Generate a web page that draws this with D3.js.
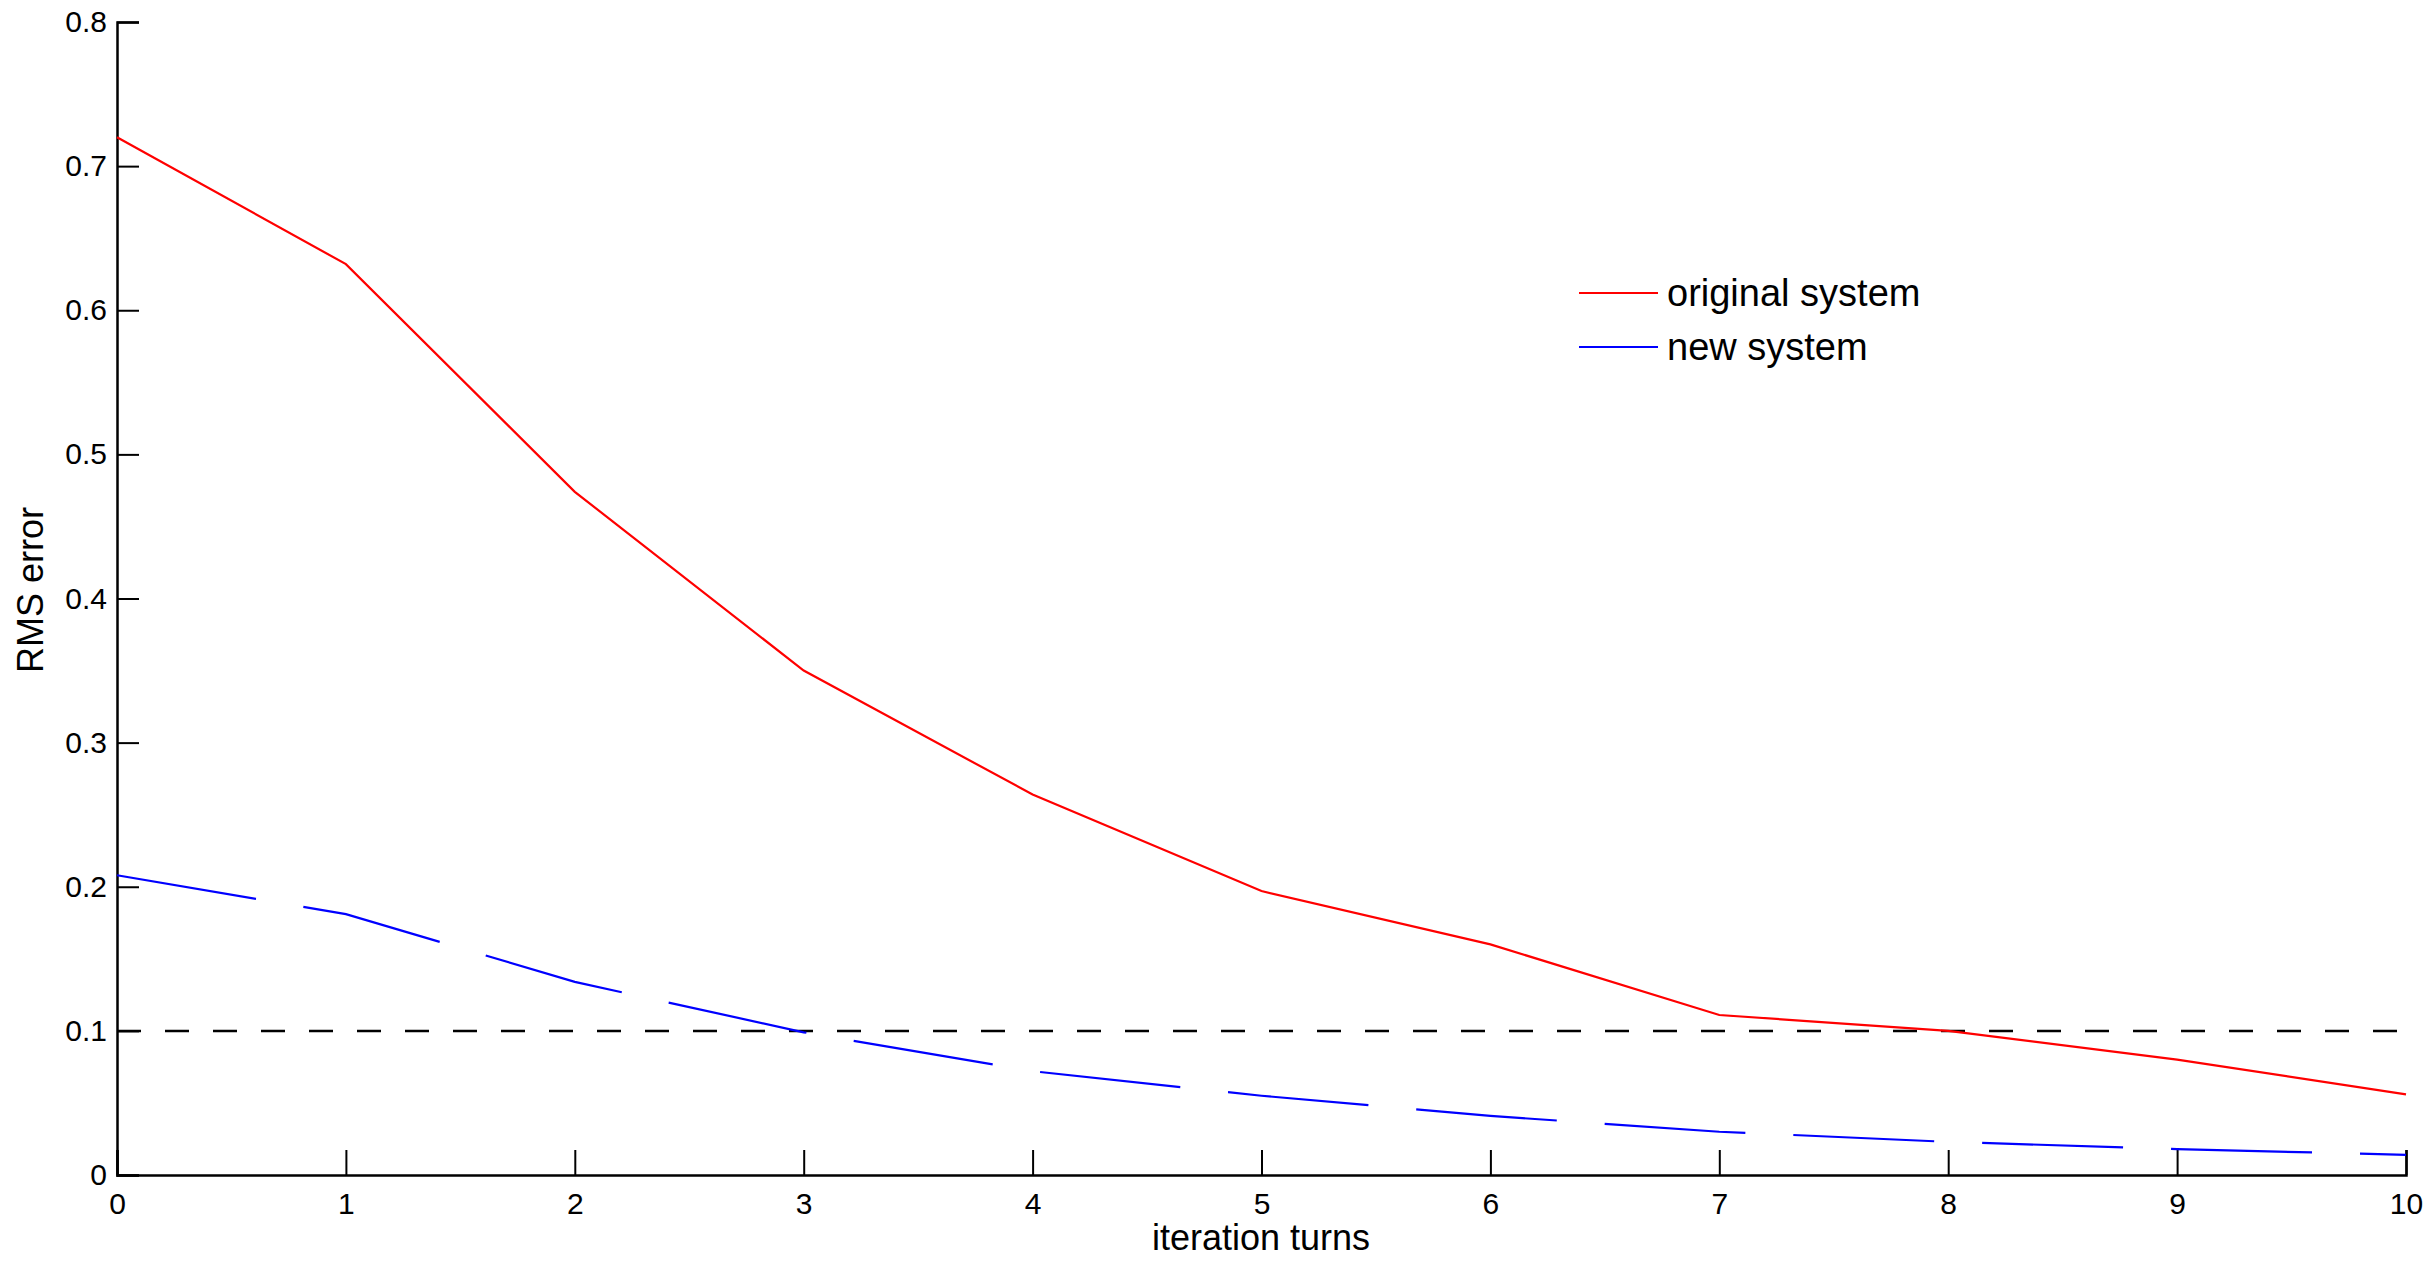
<!DOCTYPE html>
<html><head><meta charset="utf-8">
<script src="https://cdn.jsdelivr.net/npm/d3@7"></script>
<style>body{margin:0;background:#fff}</style>
</head><body>
<svg id="c" width="2433" height="1265"></svg>
<script>
const iterations = [0,1,2,3,4,5,6,7,8,9,10];
const originalSystem = [0.72,0.632,0.474,0.350,0.264,0.197,0.160,0.111,0.100,0.080,0.056];
const newSystem = [0.208,0.181,0.134,0.099,0.072,0.055,0.041,0.030,0.023,0.018,0.014];
const threshold = 0.1;
const yTicks = [0,0.1,0.2,0.3,0.4,0.5,0.6,0.7,0.8];
const xTicks = [0,1,2,3,4,5,6,7,8,9,10];

const svg = d3.select('#c');
const font = 'Liberation Sans, Arial, sans-serif';
const x = d3.scaleLinear().domain([0,10]).range([117,2406]);
const y = d3.scaleLinear().domain([0,0.8]).range([1175,22]);

const xa = svg.append('g').attr('transform','translate(0,1175)')
  .call(d3.axisBottom(x).tickValues(xTicks).tickSize(-25).tickPadding(12).tickFormat(d3.format('d')));
const ya = svg.append('g').attr('transform','translate(117,0)')
  .call(d3.axisLeft(y).tickValues(yTicks).tickSize(-22).tickPadding(10).tickFormat(d=>d===0?'0':d3.format('.1f')(d)));
[xa,ya].forEach(a=>{
  a.selectAll('path').attr('stroke','#000').attr('stroke-width',2.5);
  a.selectAll('line').attr('stroke','#000').attr('stroke-width',2);
  a.selectAll('text').attr('font-family',font).attr('font-size',30).attr('fill','#000');
});
xa.selectAll('text').attr('dy','0.9em');

svg.append('line').attr('x1',x(0)).attr('x2',x(10)).attr('y1',y(threshold)).attr('y2',y(threshold))
  .attr('stroke','#000').attr('stroke-width',2.5).attr('stroke-dasharray','24,24');

const line = d3.line().x((d,i)=>x(iterations[i])).y(d=>y(d));
svg.append('path').datum(originalSystem).attr('d',line).attr('fill','none').attr('stroke','#ff0000').attr('stroke-width',2.2);
svg.append('path').datum(newSystem).attr('d',line).attr('fill','none').attr('stroke','#0000ff').attr('stroke-width',2.2).attr('stroke-dasharray','141,48');

const leg = [['original system','#ff0000',293],['new system','#0000ff',347]];
leg.forEach(([t,c,yy])=>{
  svg.append('line').attr('x1',1579).attr('x2',1658).attr('y1',yy).attr('y2',yy).attr('stroke',c).attr('stroke-width',2);
  svg.append('text').attr('x',1667).attr('y',yy).attr('dy','0.35em').attr('font-family',font).attr('font-size',38).text(t);
});

svg.append('text').attr('x',1261).attr('y',1250).attr('text-anchor','middle').attr('font-family',font).attr('font-size',36).text('iteration turns');
svg.append('text').attr('transform','translate(43,590) rotate(-90)').attr('text-anchor','middle').attr('font-family',font).attr('font-size',36).text('RMS error');
</script>
</body></html>
